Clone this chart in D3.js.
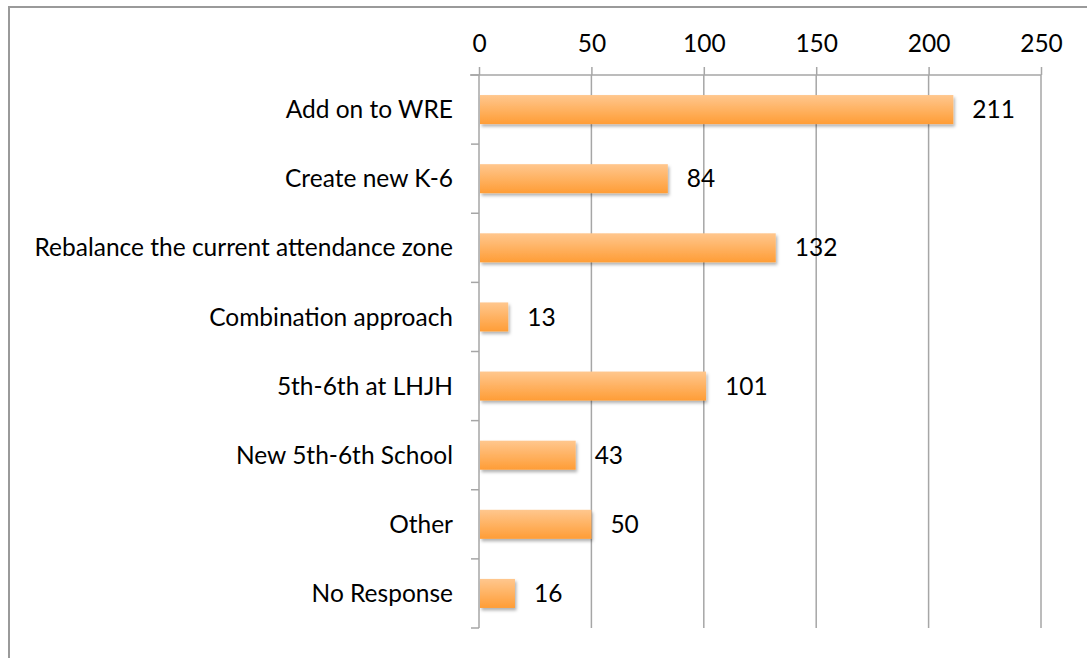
<!DOCTYPE html>
<html><head><meta charset="utf-8">
<script src="https://cdn.jsdelivr.net/npm/d3@7"></script>
<style>body{margin:0;background:#fff}svg{display:block}</style>
</head><body>
<svg id="c" width="1087" height="658"></svg>
<script>
const categories = ["Add on to WRE","Create new K-6","Rebalance the current attendance zone","Combination approach","5th-6th at LHJH","New 5th-6th School","Other","No Response"];
const values = [211,84,132,13,101,43,50,16];
const tickValues = [0,50,100,150,200,250];

const svg = d3.select("#c");
const font = "Lato, 'Open Sans', sans-serif";
const fs = 24.5;
const pLeft = 479, pRight = 1041, pTop = 75, pBottom = 628;

const defs = svg.append("defs");
const g = defs.append("linearGradient").attr("id","bg").attr("x1",0).attr("y1",0).attr("x2",0).attr("y2",1);
g.append("stop").attr("offset","0%").attr("stop-color","#ffc78e");
g.append("stop").attr("offset","100%").attr("stop-color","#ff9d36");
const f = defs.append("filter").attr("id","sh").attr("x","-10%").attr("y","-20%").attr("width","130%").attr("height","160%");
f.append("feDropShadow").attr("dx",1.5).attr("dy",2.5).attr("stdDeviation",1.8).attr("flood-color","#000").attr("flood-opacity",0.3);

// border
svg.append("rect").attr("x",9).attr("y",7).attr("width",1100).attr("height",700)
  .attr("fill","none").attr("stroke","#9a9a9a").attr("stroke-width",2);

const x = d3.scaleLinear().domain([0,250]).range([pLeft,pRight]);
const y = d3.scaleBand().domain(categories).range([pTop,pBottom]).paddingInner(0.58).paddingOuter(0.29);

// gridlines
svg.append("g").selectAll("line").data(tickValues.slice(1)).join("line")
  .attr("x1",d=>x(d)).attr("x2",d=>x(d)).attr("y1",pTop).attr("y2",pBottom)
  .attr("stroke","#a6a6a6").attr("stroke-width",1.5);

// top axis
const xa = svg.append("g").attr("transform",`translate(0,${pTop})`)
  .call(d3.axisTop(x).tickValues(tickValues).tickSize(8).tickSizeOuter(0).tickPadding(15));
xa.select(".domain").attr("stroke","#a6a6a6").attr("stroke-width",1.5).attr("d",`M${pLeft-9},0H${pRight}`);
xa.selectAll(".tick line").attr("stroke","#a6a6a6").attr("stroke-width",1.5);
xa.selectAll("text").attr("font-family",font).attr("font-size",fs).attr("fill","#000");

// category axis
const step = (pBottom-pTop)/categories.length;
const boundaries = d3.range(categories.length+1).map(i=>pTop+i*step);
svg.append("line").attr("x1",pLeft).attr("x2",pLeft).attr("y1",pTop).attr("y2",pBottom)
  .attr("stroke","#a6a6a6").attr("stroke-width",1.5);
svg.append("g").selectAll("line").data(boundaries).join("line")
  .attr("x1",pLeft-8).attr("x2",pLeft).attr("y1",d=>d).attr("y2",d=>d)
  .attr("stroke","#a6a6a6").attr("stroke-width",1.5);
svg.append("g").selectAll("text").data(categories).join("text")
  .attr("x",pLeft-26).attr("y",d=>y(d)+y.bandwidth()/2).attr("dy","0.35em")
  .attr("text-anchor","end").attr("font-family",font).attr("font-size",fs).attr("fill","#000")
  .text(d=>d);

// bars
const data = categories.map((c,i)=>({c,v:values[i]}));
svg.append("g").selectAll("rect").data(data).join("rect")
  .attr("x",x(0)+1).attr("y",d=>y(d.c)).attr("width",d=>x(d.v)-x(0)-1).attr("height",y.bandwidth())
  .attr("fill","url(#bg)").attr("filter","url(#sh)");

// value labels
svg.append("g").selectAll("text").data(data).join("text")
  .attr("x",d=>x(d.v)+19).attr("y",d=>y(d.c)+y.bandwidth()/2).attr("dy","0.35em")
  .attr("font-family",font).attr("font-size",fs).attr("fill","#000")
  .text(d=>d.v);
</script>
</body></html>
